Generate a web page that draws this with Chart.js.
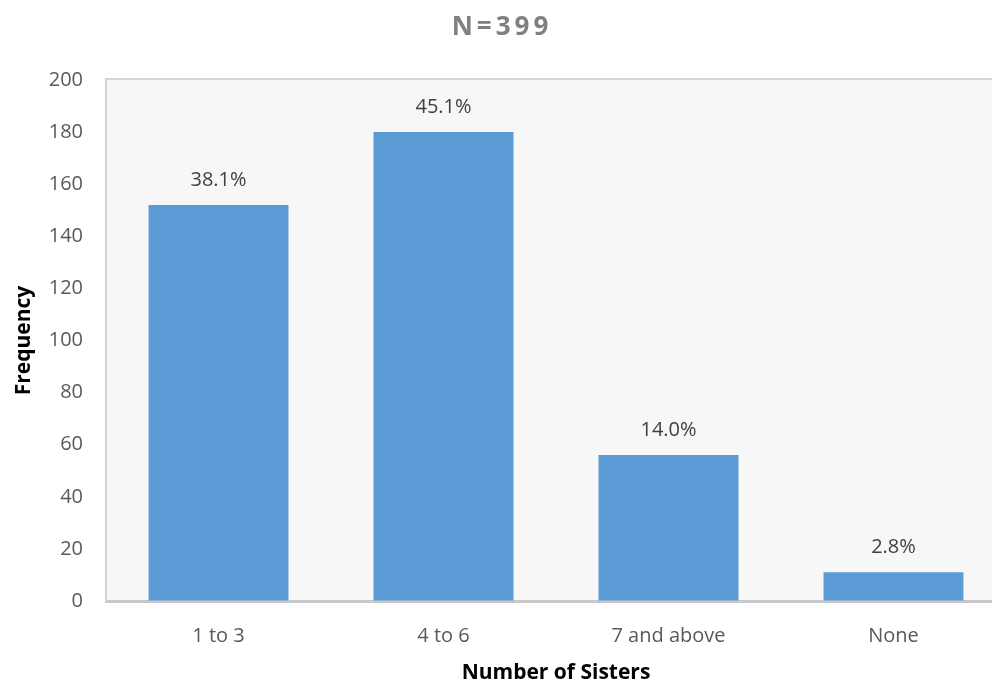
<!DOCTYPE html>
<html>
<head>
<meta charset="utf-8">
<script src="https://cdn.jsdelivr.net/npm/chart.js@4.4.0/dist/chart.umd.min.js"></script>
<style>
  html, body { margin: 0; padding: 0; background: #fff; overflow: hidden; }
  #frame { width: 992px; height: 686px; overflow: hidden; }
  #wrap { width: 1006px; height: 686px; position: relative; }
</style>
</head>
<body>
<div id="frame"><div id="wrap"><canvas id="sisterChart"></canvas></div></div>
<script>
// 데이터
const categories = ['1 to 3', '4 to 6', '7 and above', 'None'];
const frequencies = [152, 180, 56, 11];
const percentLabels = ['38.1%', '45.1%', '14.0%', '2.8%'];
const yTicks = [0, 20, 40, 60, 80, 100, 120, 140, 160, 180, 200];
const chartTitle = 'N=399';

const FONT = '"Open Sans", "Noto Sans", sans-serif';

// 플롯 배경 + 위쪽 테두리
const plotBackground = {
    id: 'plotBackground',
    beforeDraw(chart) {
        const { ctx, chartArea: a } = chart;
        ctx.save();
        ctx.fillStyle = '#f7f7f7';
        ctx.fillRect(a.left, a.top, a.right - a.left, a.bottom - a.top);
        ctx.fillStyle = '#d4d4d4';
        ctx.fillRect(a.left - 1, a.top - 2, a.right - a.left + 1, 2);
        ctx.restore();
    }
};

// 제목 + 퍼센트 라벨
const labelsPlugin = {
    id: 'labelsPlugin',
    afterDraw(chart) {
        const { ctx } = chart;
        ctx.save();
        ctx.textAlign = 'center';
        ctx.textBaseline = 'middle';
        ctx.fillStyle = '#808080';
        ctx.font = 'bold 26px ' + FONT;
        ctx.letterSpacing = '4px';
        ctx.fillText(chartTitle, 502, 28);
        ctx.letterSpacing = '0px';

        ctx.fillStyle = '#404040';
        ctx.font = '20px ' + FONT;
        const meta = chart.getDatasetMeta(0);
        meta.data.forEach((bar, i) => {
            ctx.fillText(percentLabels[i], bar.x, bar.y - 25);
        });
        ctx.restore();
    }
};

new Chart(document.getElementById('sisterChart'), {
    type: 'bar',
    data: {
        labels: categories,
        datasets: [{
            data: frequencies,
            backgroundColor: '#5b9bd5',
            borderWidth: 0,
            categoryPercentage: 1,
            barPercentage: 0.622
        }]
    },
    options: {
        responsive: true,
        maintainAspectRatio: false,
        animation: false,
        layout: { padding: { top: 80, left: 0, right: 0, bottom: 0 } },
        plugins: {
            legend: { display: false },
            tooltip: { enabled: false }
        },
        scales: {
            x: {
                grid: { drawOnChartArea: false, drawTicks: false },
                border: { color: '#c8c8c8', width: 3 },
                ticks: { color: '#595959', font: { family: FONT, size: 20 }, padding: 23 },
                title: {
                    display: true,
                    text: 'Number of Sisters',
                    color: '#000',
                    font: { family: FONT, size: 21, weight: 'bold' },
                    padding: { top: 0, bottom: 0 }
                },
                afterFit: s => { s.height = 85; }
            },
            y: {
                min: 0,
                max: 200,
                afterBuildTicks: s => { s.ticks = yTicks.map(v => ({ value: v })); },
                grid: { drawOnChartArea: false, drawTicks: false },
                border: { color: '#d4d4d4', width: 2 },
                ticks: { color: '#595959', font: { family: FONT, size: 20 }, padding: 23 },
                title: {
                    display: true,
                    text: 'Frequency',
                    color: '#000',
                    font: { family: FONT, size: 21, weight: 'bold' },
                    padding: { top: 11, bottom: 0 }
                },
                afterFit: s => { s.width = 106; }
            }
        }
    },
    plugins: [plotBackground, labelsPlugin]
});
</script>
</body>
</html>
